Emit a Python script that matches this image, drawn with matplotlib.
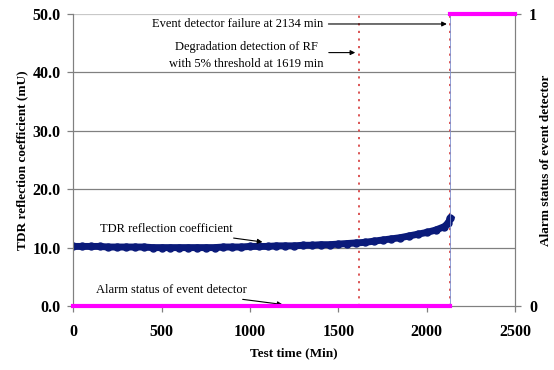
import numpy as np
import matplotlib.pyplot as plt

plt.rcParams['font.family'] = ['Liberation Serif', 'DejaVu Serif']

# TDR reflection coefficient (mU) vs test time (min)
t = [0, 50, 100, 150, 200, 250, 300, 350, 400, 450, 500, 550, 600, 650, 700,
     750, 800, 850, 900, 950, 1000, 1050, 1100, 1150, 1200, 1250, 1300, 1350,
     1400, 1450, 1500, 1550, 1600, 1650, 1700, 1750, 1800, 1850, 1900, 1950,
     2000, 2050, 2100, 2120, 2134]
rf = [10.2, 10.2, 10.2, 10.2, 10.1, 10.1, 10.1, 10.1, 10.1, 10.0, 10.0, 10.0,
      10.0, 10.0, 10.0, 10.0, 10.0, 10.1, 10.1, 10.1, 10.2, 10.2, 10.2, 10.3,
      10.3, 10.3, 10.4, 10.4, 10.5, 10.5, 10.6, 10.7, 10.8, 10.9, 11.1, 11.3,
      11.5, 11.7, 12.0, 12.3, 12.6, 13.0, 13.6, 14.2, 15.0]

# alarm status of event detector
alarm_t = [0, 2134, 2134, 2500]
alarm = [0, 0, 1, 1]

t_degrade = 1619
t_fail = 2134

fig = plt.figure(figsize=(5.54, 3.70), dpi=100)
ax = fig.add_axes([0.132, 0.173, 0.798, 0.789])
ax2 = ax.twinx()

grid_c = '#808080'
for y in [10, 20, 30, 40]:
    ax.axhline(y, color=grid_c, lw=0.9, zorder=0)
ax.axhline(50, color='#c8c8c8', lw=0.9, zorder=0)

ax2.plot(alarm_t[1:3], alarm[1:3], color='#8090d0', lw=0.6, zorder=1)
ax.axvline(t_degrade, color='#d84848', ls=(0, (1.2, 3)), lw=1.3, zorder=2)
ax.axvline(t_fail, color='#d84848', ls=(0, (1.2, 3)), lw=1.3, zorder=2)

ax.plot(t, rf, '-o', color='#0a1a7a', lw=5, ms=5, zorder=3)

ax2.plot(alarm_t[:2], alarm[:2], color='#ff00ff', lw=3, zorder=3, clip_on=False)
ax2.plot(alarm_t[2:], alarm[2:], color='#ff00ff', lw=3, zorder=3, clip_on=False)

ax.set_xlim(0, 2500)
ax.set_ylim(0, 50)
ax2.set_ylim(0, 1)
ax.set_xticks(np.arange(0, 2501, 500))
ax.set_yticks(np.arange(0, 51, 10))
ax.set_yticklabels([f'{v:.1f}' for v in np.arange(0, 51, 10)])
ax2.set_yticks([0, 1])

for sp in ['left', 'bottom', 'right']:
    ax.spines[sp].set_color(grid_c)
    ax2.spines[sp].set_color(grid_c)
ax.spines['top'].set_visible(False)
ax2.spines['top'].set_visible(False)

ax.tick_params(axis='both', colors=grid_c, labelcolor='black', labelsize=11.5,
               length=4, width=0.9, pad=5)
ax.tick_params(axis='x', pad=9)
ax2.tick_params(axis='y', colors=grid_c, labelcolor='black', labelsize=11.5,
                length=4, width=0.9, pad=6)
for lbl in ax.get_xticklabels() + ax.get_yticklabels() + ax2.get_yticklabels():
    lbl.set_fontweight('bold')

ax.set_xlabel('Test time (Min)', fontsize=9.5, fontweight='bold', labelpad=5)
ax.set_ylabel('TDR reflection coefficient (mU)', fontsize=9.5, fontweight='bold', labelpad=3)
fig.text(0.985, 0.567, 'Alarm status of event detector', fontsize=9.5,
         fontweight='bold', rotation=90, ha='center', va='center')

arrow = dict(arrowstyle='-|>', color='black', lw=0.8, mutation_scale=7)
fs = 9
ax.annotate('Event detector failure at 2134 min', xy=(t_fail - 5, 48.3),
            xytext=(928, 48.3), fontsize=fs, ha='center', va='center',
            arrowprops=arrow)
ax.text(979, 42.9, 'Degradation detection of RF\nwith 5% threshold at 1619 min',
        fontsize=fs, ha='center', va='center', linespacing=1.5)
ax.annotate('', xy=(t_degrade - 8, 43.4), xytext=(1430, 43.4), arrowprops=arrow)
ax.annotate('TDR reflection coefficient', xy=(1086, 10.9), xytext=(526, 13.2),
            fontsize=fs, ha='center', va='center', arrowprops=arrow)
ax.annotate('Alarm status of event detector', xy=(1199, 0.2), xytext=(557, 2.7),
            fontsize=fs, ha='center', va='center', arrowprops=arrow)

fig.savefig('out.png', dpi=100)
